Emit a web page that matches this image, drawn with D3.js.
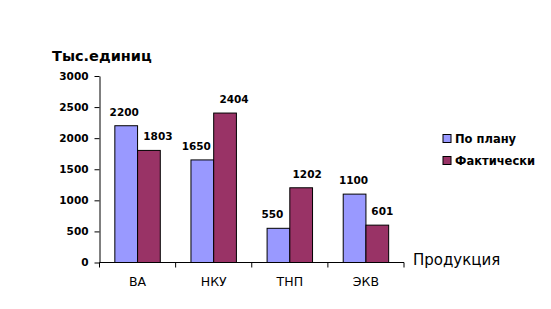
<!DOCTYPE html>
<html>
<head>
<meta charset="utf-8">
<script src="https://cdn.jsdelivr.net/npm/d3@7"></script>
<style>
body { margin: 0; background: #fff; }
svg { font-family: "DejaVu Sans", Verdana, sans-serif; }
</style>
</head>
<body>
<div id="chart"></div>
<script>
// data
var categories = ["ВА", "НКУ", "ТНП", "ЭКВ"];
var seriesNames = ["По плану", "Фактически"];
var planValues = [2200, 1650, 550, 1100];
var factValues = [1803, 2404, 1202, 601];
var yTicks = [0, 500, 1000, 1500, 2000, 2500, 3000];
var colors = ["#9999FF", "#993366"];

var w = 551, h = 309;
var plotLeft = 99.5, plotRight = 404, plotTop = 76, plotBottom = 262.5;

// the value labels were nudged by hand in the original, keep that
var labelNudge = [[-2, 9], [-6, 9], [-6, 6], [-1, 5]];

var svg = d3.select("#chart").append("svg")
	.attr("width", w)
	.attr("height", h);

var x = d3.scaleBand().domain(categories).range([plotLeft, plotRight]);
var inner = d3.scaleBand().domain([0, 1]).range([0, x.bandwidth()]).paddingInner(0).paddingOuter(0.675);
var y = d3.scaleLinear().domain([0, 3000]).range([plotBottom, plotTop]);

// y axis
var yAxis = svg.append("g")
	.attr("transform", "translate(" + plotLeft + ",0)")
	.call(d3.axisLeft(y).tickValues(yTicks).tickFormat(d3.format("d")).tickSize(5).tickSizeOuter(0).tickPadding(6));
yAxis.select(".domain").attr("stroke", "#000");
yAxis.selectAll("text")
	.attr("font-size", "10.5px")
	.attr("font-weight", "bold")
	.attr("font-family", "DejaVu Sans")
	.attr("fill", "#000");

var rows = categories.map(function(c, i) {
	return [planValues[i], factValues[i]];
});

var groups = svg.selectAll("g.grp")
	.data(rows)
	.enter().append("g")
	.attr("class", "grp")
	.attr("transform", function(d, i) {
		return "translate(" + x(categories[i]) + ",0)";
	});

groups.selectAll("rect")
	.data(function(d) { return d; })
	.enter().append("rect")
	.attr("x", function(d, i) { return inner(i); })
	.attr("y", function(d) { return y(d); })
	.attr("width", inner.bandwidth())
	.attr("height", function(d) { return y(0) - y(d); })
	.attr("fill", function(d, i) { return colors[i]; })
	.attr("stroke", "#000")
	.attr("stroke-width", 1);

groups.each(function(row, gi) {
	d3.select(this).selectAll("text")
		.data(row)
		.enter().append("text")
		.attr("x", function(d, i) { return inner(i) + inner.bandwidth() / 2 + labelNudge[gi][i]; })
		.attr("y", function(d) { return y(d) - 10; })
		.attr("text-anchor", "middle")
		.attr("font-size", "10.5px")
		.attr("font-weight", "bold")
		.text(function(d) { return d; });
});

// x axis
var xAxis = svg.append("g")
	.attr("transform", "translate(0," + plotBottom + ")")
	.call(d3.axisBottom(x).tickSize(0).tickPadding(15));
xAxis.select(".domain").attr("stroke", "#000").attr("d", "M" + plotLeft + ",0H" + plotRight);
xAxis.selectAll("text")
	.attr("font-size", "12.5px")
	.attr("font-family", "DejaVu Sans")
	.attr("fill", "#000");
xAxis.selectAll("line.sep")
	.data(categories.concat(["end"]))
	.enter().append("line")
	.attr("class", "sep")
	.attr("x1", function(d, i) { return plotLeft + i * x.bandwidth(); })
	.attr("x2", function(d, i) { return plotLeft + i * x.bandwidth(); })
	.attr("y1", 0)
	.attr("y2", 5)
	.attr("stroke", "#000");

// axis titles
svg.append("text")
	.attr("x", 52)
	.attr("y", 61)
	.attr("font-size", "14.5px")
	.attr("font-weight", "bold")
	.text("Тыс.единиц");

svg.append("text")
	.attr("x", 413)
	.attr("y", 265)
	.attr("font-size", "15px")
	.text("Продукция");

// legend
var legend = svg.selectAll("g.leg")
	.data(seriesNames)
	.enter().append("g")
	.attr("class", "leg")
	.attr("transform", function(d, i) {
		return "translate(443," + (134.5 + i * 22) + ")";
	});
legend.append("rect")
	.attr("width", 8)
	.attr("height", 8)
	.attr("fill", function(d, i) { return colors[i]; })
	.attr("stroke", "#000");
legend.append("text")
	.attr("x", 12)
	.attr("y", 8)
	.attr("font-size", "11.5px")
	.attr("font-weight", "bold")
	.text(function(d) { return d; });
</script>
</body>
</html>
